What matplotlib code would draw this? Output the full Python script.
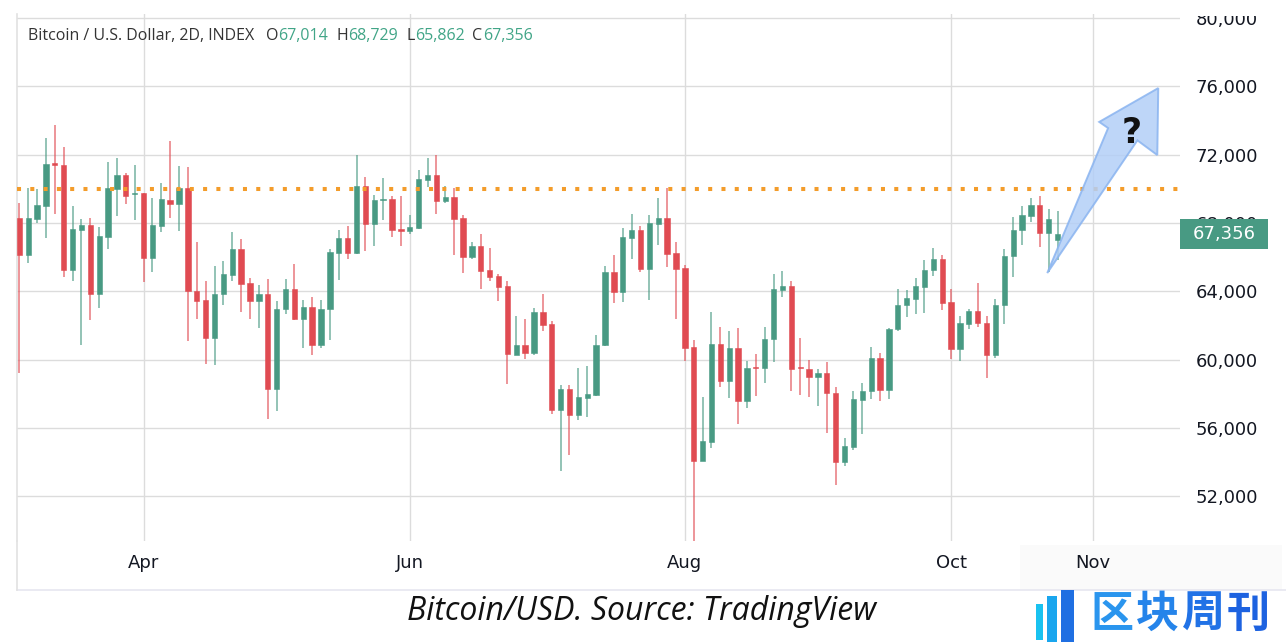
import numpy as np
import pandas as pd
import matplotlib
matplotlib.use("Agg")
import matplotlib.pyplot as plt
from matplotlib.patches import Rectangle, Polygon
from matplotlib.ticker import FuncFormatter, FixedLocator
from matplotlib import font_manager as fm
import matplotlib.transforms as mtransforms

# ---------------- data ----------------
start_date = "2024-03-04"
opens = [68320, 66120, 68210, 68990, 71450, 71390, 65220, 67580, 67870, 63830,
         67190, 70010, 70810, 69700, 69730, 65980, 67840, 69340, 69130, 70060,
         64040, 63480, 61290, 63830, 64980, 66470, 64490, 63440, 63870, 58300,
         62950, 64120, 62360, 63100, 60840, 62950, 66250, 67110, 66250, 70160,
         67970, 69320, 69420, 67600, 67520, 67680, 70530, 70810, 69300, 69540,
         68270, 66000, 66660, 65220, 64880, 64300, 60290, 60880, 60410, 62790,
         62090, 57060, 58300, 56770, 57750, 57940, 60840, 65140, 63960, 67130,
         67620, 65330, 67970, 68320, 66230, 65390, 60740, 54070, 55170, 60930,
         58730, 60680, 57570, 59550, 59510, 61230, 64080, 64320, 59530, 59470,
         58980, 59210, 58060, 53990, 54870, 57650, 58180, 60090, 58200, 61770,
         63180, 63570, 64260, 65240, 65900, 63360, 60640, 62110, 62830, 62150,
         60250, 63180, 66040, 67580, 68420, 69050, 67390, 67014]
highs = [69150, 70030, 69990, 73000, 73740, 72470, 68970, 68210, 68270, 67760,
         71590, 71780, 70940, 71390, 69750, 69480, 70320, 72800, 71340, 71260,
         66900, 64590, 65510, 65760, 67480, 67090, 64810, 64360, 64750, 63420,
         64710, 65590, 63480, 63670, 63480, 66470, 67580, 67820, 71980, 70690,
         69630, 70630, 69580, 69580, 68460, 71080, 71780, 71980, 70180, 70030,
         68460, 66900, 67330, 66550, 65040, 64590, 62540, 62400, 63050, 63870,
         62260, 58530, 58530, 59530, 59610, 61440, 65470, 66150, 67680, 68520,
         67820, 68460, 69480, 70060, 66860, 65570, 61130, 57810, 62790, 61910,
         61660, 61850, 59920, 60310, 61890, 65020, 65180, 64590, 61270, 60000,
         59470, 59860, 58390, 55400, 58140, 58650, 60760, 60410, 61850, 64160,
         64060, 64810, 65840, 66550, 66100, 64160, 62540, 62990, 64510, 62540,
         63570, 66470, 68360, 68990, 69440, 69580, 68850, 68729]
lows = [59230, 65670, 68030, 67130, 68520, 64840, 64590, 60840, 62300, 63050,
        66450, 68420, 69110, 68150, 64530, 65160, 67500, 68270, 67520, 61070,
        62360, 59740, 59680, 63180, 64590, 62790, 62400, 61850, 56540, 56990,
        62650, 62300, 60680, 60250, 60680, 61130, 64650, 65920, 66190, 66370,
        66680, 68150, 67190, 66680, 67330, 67640, 70120, 68500, 69200, 66120,
        65100, 65880, 64160, 64610, 63440, 58550, 60250, 60020, 60250, 61660,
        56830, 53490, 54390, 56440, 56630, 57900, 60780, 63320, 63380, 65920,
        65140, 63520, 66740, 65410, 62360, 59920, 49000, 54050, 54810, 58390,
        57750, 56240, 57180, 57860, 58650, 59860, 63670, 58140, 57940, 57810,
        57260, 55710, 52660, 53760, 54700, 55660, 57710, 57570, 57710, 61660,
        62500, 62670, 62730, 64900, 62930, 60040, 59920, 61790, 61910, 58920,
        60110, 62110, 64840, 66700, 68070, 66600, 65140, 65862]
closes = [66120, 68270, 69050, 71430, 71410, 65220, 67640, 67870, 63830, 67250,
          70040, 70810, 69610, 69720, 65980, 67870, 69400, 69130, 70060, 64020,
          63440, 61290, 63870, 65000, 66470, 64450, 63440, 63870, 58300, 62990,
          64120, 62360, 63100, 60840, 62990, 66310, 67110, 66250, 70160, 67970,
          69340, 69380, 67580, 67560, 67740, 70570, 70810, 69300, 69540, 68230,
          66000, 66660, 65180, 64840, 64280, 60330, 60880, 60410, 62790, 62050,
          57060, 58300, 56770, 57810, 58000, 60880, 65140, 63960, 67170, 67620,
          65330, 67990, 68320, 66190, 65330, 60700, 54070, 55210, 60930, 58730,
          60680, 57570, 59530, 59510, 61190, 64120, 64320, 59470, 59490, 58980,
          59210, 58040, 53990, 54930, 57670, 58180, 60090, 58200, 61810, 63220,
          63610, 64320, 65270, 65900, 63320, 60640, 62150, 62830, 62170, 60250,
          63220, 66080, 67620, 68460, 69050, 67390, 68210, 67356]

resistance = 70000
y_ticks = [52000, 56000, 60000, 64000, 68000, 72000, 76000, 80000]
month_labels = ["2024-04-01", "2024-06-01", "2024-08-01", "2024-10-01", "2024-11-01"]
title_text = "Bitcoin / U.S. Dollar, 2D, INDEX"
caption = "Bitcoin/USD. Source: TradingView"
logo_chars = ["区", "块", "周", "刊"]
# projection arrow (candle index, price) drawn on the chart
arrow_x = [115.84, 122.7, 121.7, 128.35, 128.24, 126.0]
arrow_y = [65070, 73560, 73920, 75900, 71980, 72840]

# ---------------- helpers ----------------
def pick(fams):
    for f in fams:
        try:
            fm.findfont(fm.FontProperties(family=f), fallback_to_default=False)
            return f
        except Exception:
            continue
    return "DejaVu Sans"

narrow = pick(["Liberation Sans Narrow", "Open Sans", "DejaVu Sans"])
cjk = pick(["Noto Sans CJK SC", "DejaVu Sans"])

UP = "#489a83"
DOWN = "#e04b52"
TXT = "#131722"

W, H = 1286, 642
fig = plt.figure(figsize=(W / 100, H / 100), dpi=100)
fig.patch.set_facecolor("white")

def fx(px):
    return px / W

def fy(py):
    return 1 - py / H

ax = fig.add_axes([fx(17), fy(541), fx(1180) - fx(17), fy(14) - fy(541)])

o = np.array(opens, float)
h = np.array(highs, float)
l = np.array(lows, float)
c = np.array(closes, float)
n = len(o)
idx = np.arange(n)
up = c >= o
cols = np.where(up, UP, DOWN)

# wicks
ax.vlines(idx, l, h, colors=cols, linewidth=1.1, alpha=0.75, zorder=3)
# bodies
bottoms = np.minimum(o, c)
heights = np.maximum(np.abs(c - o), 80)
ax.bar(idx, heights, bottom=bottoms, width=0.6, color=cols, edgecolor=cols,
       linewidth=0.4, zorder=4)

# resistance line
ax.axhline(resistance, color="#f39c2b", linewidth=2.9, linestyle=(0, (1, 2.3)),
           dash_capstyle="butt", zorder=5)

# axes limits
ax.set_xlim(-0.26, 130.8)
ax.set_ylim(49380, 80240)

# month ticks: candle containing first day of each month
t0 = pd.Timestamp(start_date)
mpos = [int((pd.Timestamp(d) - t0).days // 2) for d in month_labels]
mlab = [pd.Timestamp(d).strftime("%b") for d in month_labels]
ax.xaxis.set_major_locator(FixedLocator(mpos))
ax.set_xticklabels(mlab)
ax.yaxis.set_major_locator(FixedLocator(y_ticks))
ax.yaxis.set_major_formatter(FuncFormatter(lambda v, p: f"{int(v):,}"))
ax.yaxis.tick_right()
ax.tick_params(axis="y", length=0, pad=11, labelsize=13, labelcolor=TXT)
ax.tick_params(axis="x", length=0, pad=9, labelsize=13, labelcolor=TXT)
ax.grid(True, color="#dcdcdc", linewidth=1.0, zorder=0)
ax.set_axisbelow(True)
for s in ["top", "right", "bottom"]:
    ax.spines[s].set_visible(False)
ax.spines["left"].set_color("#e2e2e2")
ax.spines["left"].set_linewidth(1.2)

# projection arrow
ax.add_patch(Polygon(np.column_stack([arrow_x, arrow_y]), closed=True,
                     facecolor="#b3cff7", edgecolor="#8ab4f0", linewidth=1.4,
                     alpha=0.85, zorder=6, clip_on=False))
ax.text(125.3, 73300, "?", fontsize=25, fontweight="bold", color="#111111",
        ha="center", va="center", zorder=7)

# last price tag
last = c[-1]
trans = mtransforms.blended_transform_factory(ax.transAxes, ax.transData)
span = (ax.get_ylim()[1] - ax.get_ylim()[0]) / 527.0
ax.add_patch(Rectangle((1.0, last - 15 * span), 88 / 1163, 30 * span,
                       transform=trans, facecolor="#489a83", edgecolor="none",
                       clip_on=False, zorder=8))
ax.text(1.0 + 44 / 1163, last, f"{int(last):,}", transform=trans, color="white",
        fontsize=13, ha="center", va="center", zorder=9)

# white strip on top (crop of screenshot) - partly hides the top price label
fig.patches.append(Rectangle((fx(1182), fy(15.5)), 1 - fx(1182), 1 - fy(15.5),
                             transform=fig.transFigure,
                             facecolor="white", edgecolor="none", zorder=20))
# light grey area bottom-right
fig.patches.append(Rectangle((fx(1020), fy(590)), fx(1282) - fx(1020), fy(545) - fy(590),
                             transform=fig.transFigure, facecolor="#fafafa",
                             edgecolor="none", zorder=-1))
# bottom frame line
fig.add_artist(plt.Line2D([fx(17), 1], [fy(590), fy(590)], color="#e6e6f0",
                          linewidth=1.2, transform=fig.transFigure))
fig.add_artist(plt.Line2D([fx(17), fx(17)], [fy(541), fy(590)], color="#e2e2e2",
                          linewidth=1.2, transform=fig.transFigure))

# legend line (top-left)
GR = "#41a587"
pieces = [(title_text, 28.5, "#333333"), ("O", 266, "#333333"), (f"{opens[-1]:,}", 278, GR),
          ("H", 337, "#333333"), (f"{highs[-1]:,}", 348, GR), ("L", 406, "#333333"),
          (f"{lows[-1]:,}", 415, GR), ("C", 472, "#333333"), (f"{closes[-1]:,}", 483, GR)]
for txt, px, colr in pieces:
    fig.text(fx(px), fy(36), txt, fontsize=11.5, color=colr, ha="left", va="center",
             family=narrow)

# caption
fig.text(fx(642), fy(611), caption, fontsize=23, style="italic", color="#111111",
         ha="center", va="center", family=narrow)

# logo
bars = [(1036, 604, 7, 36, "#19c2f0"), (1047, 596, 10, 46, "#1aa6ee"), (1061, 590, 13, 52, "#1f6fe2")]
for bx, by, bw, bh, bc in bars:
    fig.patches.append(Rectangle((fx(bx), fy(by + bh)), bw / W, bh / H, transform=fig.transFigure,
                                 facecolor=bc, edgecolor="none", zorder=5))
lcols = ["#2a95ee", "#2584ea", "#2172e6", "#1d62e0"]
for i, (ch, lc) in enumerate(zip(logo_chars, lcols)):
    fig.text(fx(1112 + i * 45.5), fy(614), ch, fontsize=31, color=lc, ha="center",
             va="center", family=cjk, fontweight="bold")

fig.savefig("out.png", dpi=100, facecolor="white")
